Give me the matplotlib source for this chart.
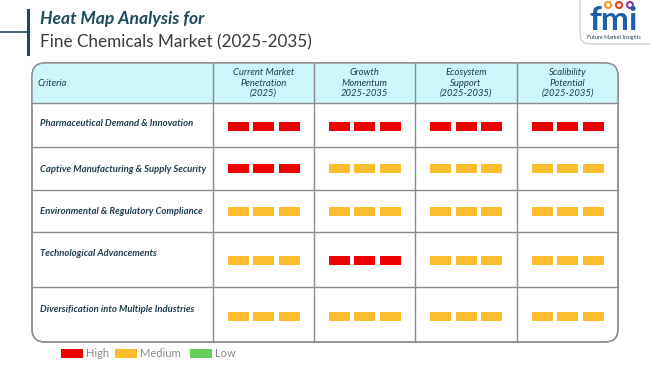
import matplotlib.pyplot as plt
from matplotlib.patches import FancyBboxPatch, Rectangle, Circle
import numpy as np

# criteria and ratings (H = high, M = medium, L = low)
criteria = [
    "Pharmaceutical Demand & Innovation",
    "Captive Manufacturing & Supply Security",
    "Environmental & Regulatory Compliance",
    "Technological Advancements",
    "Diversification into Multiple Industries",
]
columns = [
    "Current Market\nPenetration\n(2025)",
    "Growth\nMomentum\n2025-2035",
    "Ecosystem\nSupport\n(2025-2035)",
    "Scalibility\nPotential\n(2025-2035)",
]
ratings = [
    ["H", "H", "H", "H"],
    ["H", "M", "M", "M"],
    ["M", "M", "M", "M"],
    ["M", "H", "M", "M"],
    ["M", "M", "M", "M"],
]
legend_labels = ["High", "Medium", "Low"]

level_colors = {"H": "#ee0000", "M": "#fbbc2e", "L": "#66cf5e"}
text_color = "#1f3d4c"
grid_color = "#8c8c8c"

plt.rcParams["font.family"] = ["Lato", "DejaVu Sans"]

fig = plt.figure(figsize=(6.5, 3.65), dpi=100)
ax = fig.add_axes([0, 0, 1, 1])
ax.set_xlim(0, 650)
ax.set_ylim(365, 0)
ax.axis("off")

# table layout (pixels)
left, right = 32, 618
top, head_bottom = 63, 103
col_edges = [left, 213, 314, 415, 517, right]
row_edges = [head_bottom, 147, 190, 232, 287, 342]
bar_offset = [1, 0, 0, 0.5, 1.5]
label_offset = [-1, 1.5, 1, -5.5, -5.5]

# table body + header with rounded corners
body = FancyBboxPatch((left, top), right - left, row_edges[-1] - top,
                      boxstyle="round,pad=0,rounding_size=13",
                      facecolor="white", edgecolor=grid_color, lw=1.0, zorder=1)
ax.add_patch(body)
header = FancyBboxPatch((left, top), right - left, head_bottom - top + 14,
                        boxstyle="round,pad=0,rounding_size=13",
                        facecolor="#cdf6fb", edgecolor="none", zorder=2)
ax.add_patch(header)
ax.add_patch(Rectangle((left + 0.6, head_bottom), right - left - 1.2, 16,
                       facecolor="white", edgecolor="none", zorder=2))
ax.add_patch(FancyBboxPatch((left, top), right - left, row_edges[-1] - top,
                            boxstyle="round,pad=0,rounding_size=13",
                            facecolor="none", edgecolor=grid_color, lw=1.0, zorder=4))

# grid lines
for x in col_edges[1:-1]:
    ax.plot([x, x], [top, row_edges[-1]], color=grid_color, lw=1.0, zorder=3)
for y in row_edges[:-1]:
    ax.plot([left, right], [y, y], color=grid_color, lw=1.0, zorder=3)

# header text
ax.text(left + 6, (top + head_bottom) / 2, "Criteria", ha="left", va="center",
        fontsize=6.8, style="italic", color=text_color, zorder=5)
for j, name in enumerate(columns):
    cx = (col_edges[j + 1] + col_edges[j + 2]) / 2
    ax.text(cx, (top + head_bottom) / 2, name, ha="center", va="center",
            fontsize=6.8, style="italic", color=text_color, linespacing=1.2,
            zorder=5)

# rows: labels and rating bars
bar_w, bar_gap, bar_h = 21, 4.5, 9
for i, name in enumerate(criteria):
    cy = (row_edges[i] + row_edges[i + 1]) / 2
    ax.text(40, cy + label_offset[i], name, ha="left", va="center", fontsize=6.8,
            style="italic", weight="bold", color=text_color, zorder=5)
    for j, level in enumerate(ratings[i]):
        cx = (col_edges[j + 1] + col_edges[j + 2]) / 2
        xs = cx + (np.arange(3) - 1) * (bar_w + bar_gap)
        ax.bar(xs, bar_h, width=bar_w, bottom=cy + bar_offset[i] - bar_h / 2,
               color=level_colors[level], zorder=5)

# legend
lx = 61
for key, lab in zip(["H", "M", "L"], legend_labels):
    ax.add_patch(Rectangle((lx, 349), 22, 9, facecolor=level_colors[key],
                           edgecolor="none"))
    ax.text(lx + 25, 353.5, lab, ha="left", va="center", fontsize=8,
            color="#8a8a8a")
    lx += {"High": 54, "Medium": 75, "Low": 0}[lab]

# title block
ax.plot([28, 28], [10, 54], color="#1d4a5c", lw=2.2)
ax.plot([0, 28], [32, 32], color="#1d4a5c", lw=1.2)
ax.text(40, 19, "Heat Map Analysis for", ha="left", va="center", fontsize=12.6,
        style="italic", weight="bold", color="#1d4a5c")
ax.text(40, 42, "Fine Chemicals Market (2025-2035)", ha="left", va="center",
        fontsize=12.3, color="#3a3a3a")

# logo
ax.add_patch(FancyBboxPatch((580, -20), 92, 64, boxstyle="round,pad=0,rounding_size=10",
                            facecolor="white", edgecolor="#c8c8c8", lw=0.8))
ax.text(614, 21, "fmi", ha="center", va="center", fontsize=24, weight="bold",
        color="#1f5fa8")
for dx, c in zip([-9, 2, 13], ["#f59a23", "#e8452c", "#8e3fa0"]):
    ax.add_patch(Circle((617 + dx, 5), 3.0, facecolor="white", edgecolor=c, lw=1.6))
ax.text(614, 37, "Future Market Insights", ha="center", va="center",
        fontsize=3.9, color="#1f3d4c")

fig.savefig("out.png", dpi=100)
